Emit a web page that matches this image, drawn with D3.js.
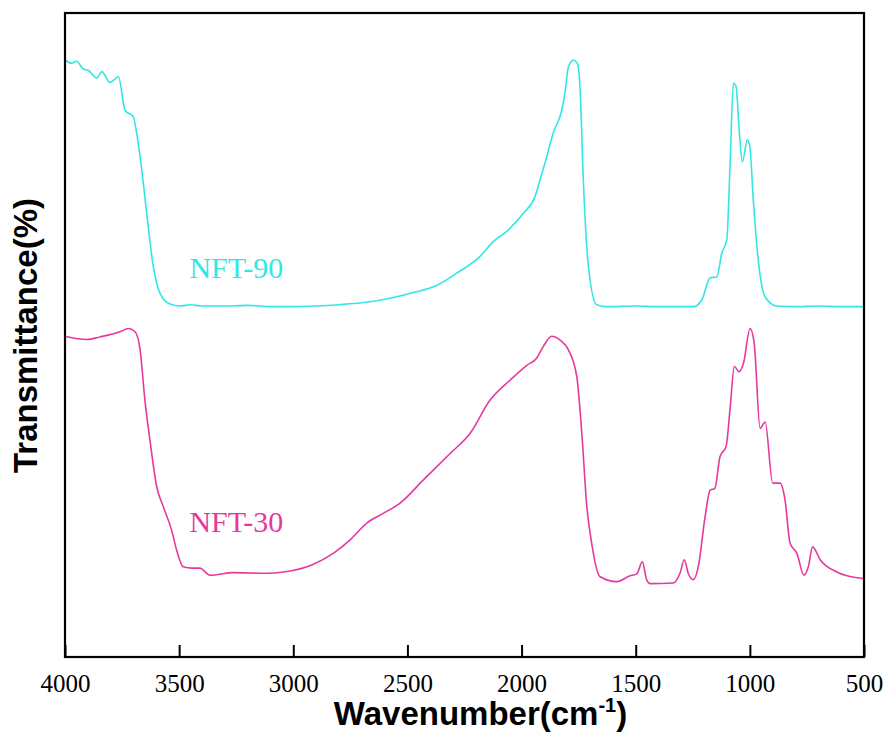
<!DOCTYPE html>
<html>
<head>
<meta charset="utf-8">
<script src="https://cdn.jsdelivr.net/npm/d3@7"></script>
<style>
    body { margin: 0; background: #fff; }
</style>
</head>
<body>
<div id="chart"></div>
<script>
// wavenumber (cm-1) / transmittance (a.u.)
const nft90Wave = [4000, 3971, 3949, 3920, 3898, 3861, 3839, 3803, 3766, 3737, 3701, 3686, 3671, 3642, 3613, 3584, 3540, 3496, 3450, 3400,
    3300, 3200, 3100, 3000, 2900, 2800, 2700, 2620, 2474, 2372, 2284, 2182, 2124, 2065, 1992, 1941, 1919, 1895, 1861, 1824, 1810,
    1795, 1773, 1756, 1744, 1729, 1707, 1671, 1627, 1500, 1400, 1300, 1247, 1211, 1174, 1145, 1123, 1101, 1087, 1072, 1060,
    1046, 1033, 1011, 1000, 985, 963, 933, 882, 800, 700, 600, 500];
const nft90Value = [92.7, 92.2, 92.5, 91.3, 91.1, 89.9, 90.9, 89.2, 90.1, 84.9, 83.9, 81.3, 77.7, 68.9, 60.6, 56.5, 54.8, 54.5, 54.7, 54.5,
    54.5, 54.6, 54.4, 54.4, 54.5, 54.7, 55.0, 55.4, 56.6, 57.7, 59.6, 62.2, 64.5, 66.1, 68.9, 71.5, 74.1, 77.0, 81.4, 84.9, 87.6,
    91.6, 92.7, 92.2, 88.5, 73.6, 60.6, 54.7, 54.4, 54.5, 54.4, 54.4, 54.4, 55.4, 58.9, 59.0, 62.7, 64.8, 76.1, 89.1, 88.5,
    81.4, 76.9, 80.3, 79.2, 71.0, 61.6, 55.9, 54.5, 54.4, 54.5, 54.4, 54.4];

const nft30Wave = [4000, 3905, 3847, 3759, 3723, 3693, 3671, 3650, 3628, 3598, 3569, 3533, 3511, 3482, 3445, 3409, 3365, 3263, 3116, 3044,
    2919, 2825, 2751, 2678, 2606, 2532, 2430, 2313, 2226, 2138, 2050, 1977, 1934, 1905, 1868, 1831, 1795, 1758, 1736, 1714,
    1693, 1657, 1583, 1525, 1495, 1471, 1452, 1437, 1335, 1306, 1287, 1270, 1248, 1226, 1196, 1174, 1153, 1131, 1104, 1087,
    1068, 1047, 1028, 999, 981, 955, 933, 900, 868, 846, 824, 794, 763, 744, 725, 692, 619, 561, 503];
const nft30Value = [49.8, 49.3, 49.7, 50.5, 51.0, 50.5, 47.7, 39.9, 33.7, 26.4, 23.3, 19.7, 16.6, 14.0, 13.8, 13.8, 12.7, 13.1, 13.0, 13.2,
    14.3, 16.1, 18.2, 20.8, 22.3, 23.9, 27.5, 31.6, 34.7, 39.9, 43.0, 45.3, 46.4, 48.2, 49.8, 49.2, 47.7, 43.5, 34.7, 23.3,
    17.7, 12.5, 11.7, 12.6, 12.9, 14.8, 12.0, 11.4, 11.5, 13.0, 15.1, 13.0, 12.0, 14.0, 21.8, 25.9, 26.2, 31.1, 32.7, 38.4,
    45.1, 44.3, 45.6, 51.0, 48.7, 35.5, 36.5, 27.0, 27.0, 24.4, 17.7, 16.1, 12.7, 14.0, 17.1, 15.1, 13.2, 12.5, 12.2];

const xTicks = [4000, 3500, 3000, 2500, 2000, 1500, 1000, 500];

const seriesNames = ["NFT-90", "NFT-30"];
const seriesColors = ["#33e6e6", "#e6399e"];
// label anchor in data units (wavenumber, transmittance)
const labelWave = [3455, 3455];
const labelValue = [58.8, 19.4];

function drawSpectrum() {
    const margin = { top: 13, right: 25, bottom: 94, left: 65 };
    const width = 889 - margin.left - margin.right;
    const height = 751 - margin.top - margin.bottom;
    const serif = "'Liberation Serif', 'Times New Roman', serif";
    const sans = "Arial, 'Liberation Sans', sans-serif";

    const svg = d3.select("#chart").append("svg")
        .attr("width", 889)
        .attr("height", 751)
        .append("g")
        .attr("transform", `translate(${margin.left}, ${margin.top})`);

    const x = d3.scaleLinear().domain([4000, 500]).range([0, width]);
    const y = d3.scaleLinear().domain([0, 100]).range([height, 0]);

    const series = [
        nft90Wave.map((w, i) => ({ w: w, v: nft90Value[i] })),
        nft30Wave.map((w, i) => ({ w: w, v: nft30Value[i] }))
    ];

    const line = d3.line()
        .x(d => x(d.w))
        .y(d => y(d.v))
        .curve(d3.curveMonotoneX);

    svg.selectAll(".spec")
        .data(series)
        .enter()
        .append("path")
        .attr("class", "spec")
        .attr("d", line)
        .attr("fill", "none")
        .attr("stroke", (d, i) => seriesColors[i])
        .attr("stroke-width", 1.6);

    svg.selectAll(".lbl")
        .data(seriesNames)
        .enter()
        .append("text")
        .attr("class", "lbl")
        .attr("x", (d, i) => x(labelWave[i]))
        .attr("y", (d, i) => y(labelValue[i]))
        .attr("font-family", serif)
        .attr("font-size", 30)
        .attr("fill", (d, i) => seriesColors[i])
        .text(d => d);

    // x axis, ticks pointing inward
    const xAxis = svg.append("g")
        .attr("transform", `translate(0, ${height})`)
        .call(d3.axisBottom(x)
            .tickValues(xTicks)
            .tickFormat(d3.format("d"))
            .tickSizeInner(-12)
            .tickSizeOuter(0)
            .tickPadding(17));
    xAxis.attr("font-family", serif).attr("font-size", 25);
    xAxis.select(".domain").remove();
    xAxis.selectAll("line").attr("stroke", "#000").attr("stroke-width", 2);
    xAxis.selectAll("text")
        .attr("font-family", serif)
        .attr("font-size", 25)
        .attr("fill", "#000");

    // frame
    svg.append("rect")
        .attr("width", width)
        .attr("height", height)
        .attr("fill", "none")
        .attr("stroke", "#000")
        .attr("stroke-width", 2.2);

    svg.append("text")
        .attr("transform", `translate(-28, ${height / 2 + 0.5}) rotate(-90)`)
        .attr("text-anchor", "middle")
        .attr("font-family", sans)
        .attr("font-weight", "bold")
        .attr("font-size", 33)
        .text("Transmittance(%)");

    const xt = svg.append("text")
        .attr("x", width / 2 + 16)
        .attr("y", height + 68)
        .attr("text-anchor", "middle")
        .attr("font-family", sans)
        .attr("font-weight", "bold")
        .attr("font-size", 33);
    xt.append("tspan").text("Wavenumber(cm");
    xt.append("tspan").attr("dy", -13).attr("font-size", 20).text("-1");
    xt.append("tspan").attr("dy", 13).text(")");
}

drawSpectrum();
</script>
</body>
</html>
